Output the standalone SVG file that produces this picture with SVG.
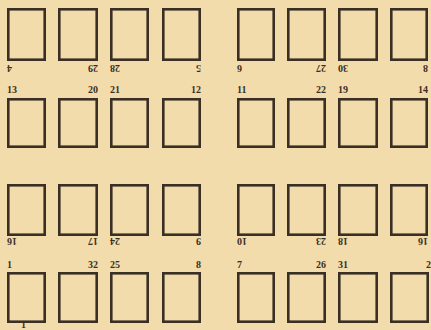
<svg xmlns="http://www.w3.org/2000/svg" width="431" height="330" viewBox="0 0 431 330">
<style>
.pg{fill:none;stroke:#3a2f25;stroke-width:2.6}
.n{font-family:"Liberation Serif","DejaVu Serif",serif;font-weight:bold;font-size:10px;fill:#3a2f25}
.e{text-anchor:end}
</style>
<rect width="431" height="330" fill="#f3dcab"/>
<g id="row1">
<g id="p4"><rect class="pg" x="8.3" y="9.3" width="36.4" height="50.4"/><text class="n e" transform="translate(7,65) rotate(180)">4</text></g>
<g id="p29"><rect class="pg" x="59.3" y="9.3" width="37.4" height="50.4"/><text class="n" transform="translate(98,65) rotate(180)">29</text></g>
<g id="p28"><rect class="pg" x="111.3" y="9.3" width="36.4" height="50.4"/><text class="n e" transform="translate(110,65) rotate(180)">28</text></g>
<g id="p5"><rect class="pg" x="163.3" y="9.3" width="36.4" height="50.4"/><text class="n" transform="translate(201,65) rotate(180)">5</text></g>
<g id="p6"><rect class="pg" x="238.3" y="9.3" width="35.4" height="50.4"/><text class="n e" transform="translate(237,65) rotate(180)">6</text></g>
<g id="p27"><rect class="pg" x="288.3" y="9.3" width="36.4" height="50.4"/><text class="n" transform="translate(326,65) rotate(180)">27</text></g>
<g id="p30"><rect class="pg" x="339.3" y="9.3" width="37.4" height="50.4"/><text class="n e" transform="translate(338,65) rotate(180)">30</text></g>
<g id="p3"><rect class="pg" x="391.3" y="9.3" width="35.4" height="50.4"/><text class="n" transform="translate(428,65) rotate(180)">8</text></g>
</g>
<g id="row2">
<g id="p13"><rect class="pg" x="8.3" y="99.3" width="36.4" height="47.4"/><text class="n" x="7" y="93">13</text></g>
<g id="p20"><rect class="pg" x="59.3" y="99.3" width="37.4" height="47.4"/><text class="n e" x="98" y="93">20</text></g>
<g id="p21"><rect class="pg" x="111.3" y="99.3" width="36.4" height="47.4"/><text class="n" x="110" y="93">21</text></g>
<g id="p12"><rect class="pg" x="163.3" y="99.3" width="36.4" height="47.4"/><text class="n e" x="201" y="93">12</text></g>
<g id="p11"><rect class="pg" x="238.3" y="99.3" width="35.4" height="47.4"/><text class="n" x="237" y="93">11</text></g>
<g id="p22"><rect class="pg" x="288.3" y="99.3" width="36.4" height="47.4"/><text class="n e" x="326" y="93">22</text></g>
<g id="p19"><rect class="pg" x="339.3" y="99.3" width="37.4" height="47.4"/><text class="n" x="338" y="93">19</text></g>
<g id="p14"><rect class="pg" x="391.3" y="99.3" width="35.4" height="47.4"/><text class="n e" x="428" y="93">14</text></g>
</g>
<g id="row3">
<g id="p16"><rect class="pg" x="8.3" y="185.3" width="36.4" height="49.4"/><text class="n e" transform="translate(7,238) rotate(180)">16</text></g>
<g id="p17"><rect class="pg" x="59.3" y="185.3" width="37.4" height="49.4"/><text class="n" transform="translate(98,238) rotate(180)">17</text></g>
<g id="p24"><rect class="pg" x="111.3" y="185.3" width="36.4" height="49.4"/><text class="n e" transform="translate(110,238) rotate(180)">24</text></g>
<g id="p9"><rect class="pg" x="163.3" y="185.3" width="36.4" height="49.4"/><text class="n" transform="translate(201,238) rotate(180)">9</text></g>
<g id="p10"><rect class="pg" x="238.3" y="185.3" width="35.4" height="49.4"/><text class="n e" transform="translate(237,238) rotate(180)">10</text></g>
<g id="p23"><rect class="pg" x="288.3" y="185.3" width="36.4" height="49.4"/><text class="n" transform="translate(326,238) rotate(180)">23</text></g>
<g id="p18"><rect class="pg" x="339.3" y="185.3" width="37.4" height="49.4"/><text class="n e" transform="translate(338,238) rotate(180)">18</text></g>
<g id="p15"><rect class="pg" x="391.3" y="185.3" width="35.4" height="49.4"/><text class="n" transform="translate(428,238) rotate(180)">16</text></g>
</g>
<g id="row4">
<g id="p1"><rect class="pg" x="8.3" y="273.3" width="36.4" height="48.4"/><text class="n" x="7" y="268">1</text><text class="n" x="21" y="328" font-size="6">1</text></g>
<g id="p32"><rect class="pg" x="59.3" y="273.3" width="37.4" height="48.4"/><text class="n e" x="98" y="268">32</text></g>
<g id="p25"><rect class="pg" x="111.3" y="273.3" width="36.4" height="48.4"/><text class="n" x="110" y="268">25</text></g>
<g id="p8"><rect class="pg" x="163.3" y="273.3" width="36.4" height="48.4"/><text class="n e" x="201" y="268">8</text></g>
<g id="p7"><rect class="pg" x="238.3" y="273.3" width="35.4" height="48.4"/><text class="n" x="237" y="268">7</text></g>
<g id="p26"><rect class="pg" x="288.3" y="273.3" width="36.4" height="48.4"/><text class="n e" x="326" y="268">26</text></g>
<g id="p31"><rect class="pg" x="339.3" y="273.3" width="37.4" height="48.4"/><text class="n" x="338" y="268">31</text></g>
<g id="p2"><rect class="pg" x="391.3" y="273.3" width="36.4" height="48.4"/><text class="n" x="426" y="268">2</text></g>
</g>
<g id="connectors"/>
</svg>
